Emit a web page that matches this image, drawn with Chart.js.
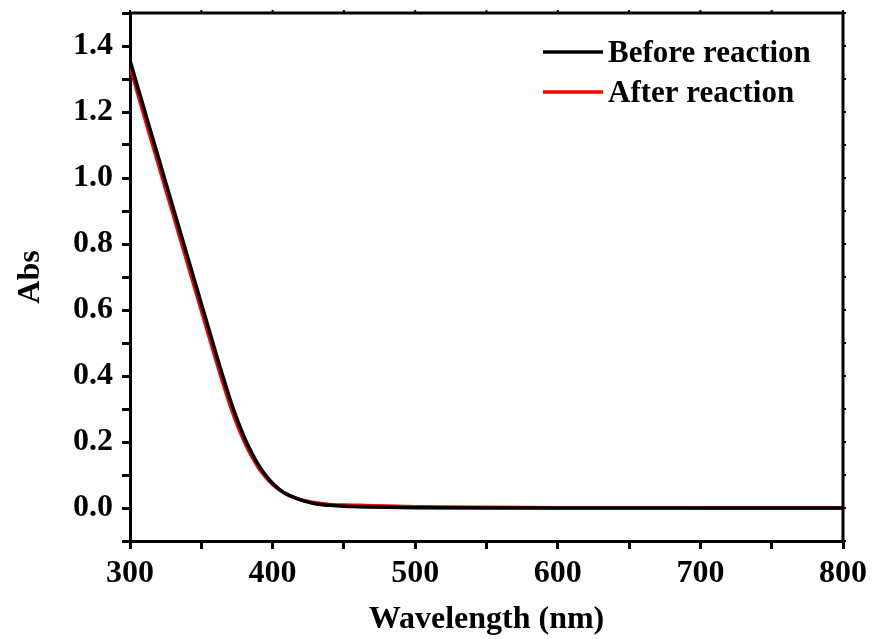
<!DOCTYPE html>
<html>
<head>
<meta charset="utf-8">
<script src="https://cdn.jsdelivr.net/npm/chart.js@4.4.0/dist/chart.umd.min.js"></script>
<style>
  html, body { margin: 0; padding: 0; background: #fff; }
  #wrap { width: 872px; height: 639px; }
</style>
</head>
<body>
<div id="wrap"><canvas id="c" width="872" height="639"></canvas></div>
<script>
const seriesNames = ['Before reaction', 'After reaction'];
const seriesColors = ['#000000', '#ff0000'];

const wavelengths = [300, 305, 310, 315, 320, 325, 330, 335, 340, 345, 350, 355, 360, 365, 370, 375, 380, 385, 390, 395, 400, 405, 410, 415, 420, 425, 430, 440, 450, 460, 480, 500, 550, 600, 650, 700, 750, 800];

const absBefore = [1.356, 1.282, 1.208, 1.134, 1.061, 0.987, 0.914, 0.840, 0.767, 0.693, 0.620, 0.546, 0.473, 0.401, 0.332, 0.270, 0.216, 0.170, 0.131, 0.100, 0.075, 0.056, 0.042, 0.032, 0.024, 0.018, 0.013, 0.008, 0.005, 0.004, 0.002, 0.001, 0.000, 0.000, 0.000, 0.000, 0.000, 0.000];

const absAfter = [1.338, 1.262, 1.187, 1.113, 1.040, 0.966, 0.893, 0.819, 0.746, 0.672, 0.599, 0.525, 0.452, 0.381, 0.314, 0.254, 0.203, 0.159, 0.123, 0.094, 0.071, 0.054, 0.041, 0.032, 0.025, 0.020, 0.016, 0.011, 0.009, 0.008, 0.006, 0.004, 0.002, 0.001, 0.001, 0.000, 0.000, 0.000];

const xTickValues = [300, 400, 500, 600, 700, 800];
const xTickLabels = ['300', '400', '500', '600', '700', '800'];
const yTickValues = [0.0, 0.2, 0.4, 0.6, 0.8, 1.0, 1.2, 1.4];
const yTickLabels = ['0.0', '0.2', '0.4', '0.6', '0.8', '1.0', '1.2', '1.4'];

const xTitle = 'Wavelength (nm)';
const yTitle = 'Abs';

const FONT = '"Liberation Serif", "Times New Roman", serif';

function pts(xs, ys) { return xs.map((x, i) => ({ x: x, y: ys[i] })); }

function labelFor(values, labels, v, eps) {
  for (let i = 0; i < values.length; i++) {
    if (Math.abs(values[i] - v) < eps) return labels[i];
  }
  return '';
}

const frameAndLegend = {
  id: 'frameAndLegend',
  afterDatasetsDraw(chart) {
    const { ctx, chartArea: a } = chart;
    ctx.save();
    ctx.strokeStyle = '#000';
    ctx.lineWidth = 3;
    ctx.beginPath();
    ctx.moveTo(a.left, a.top);
    ctx.lineTo(a.right, a.top);
    ctx.lineTo(a.right, a.bottom);
    ctx.stroke();
    // small ticks on top and right axes
    ctx.lineWidth = 2;
    const xs = chart.scales.x, ys = chart.scales.y;
    for (let v = 300; v <= 800; v += 50) {
      const px = xs.getPixelForValue(v);
      ctx.beginPath(); ctx.moveTo(px, a.top); ctx.lineTo(px, a.top - 3); ctx.stroke();
    }
    for (let k = -1; k <= 15; k++) {
      const py = ys.getPixelForValue(k / 10);
      ctx.beginPath(); ctx.moveTo(a.right, py); ctx.lineTo(a.right + 3, py); ctx.stroke();
    }
    // legend
    const ds = chart.data.datasets;
    const lx0 = a.right - 300, lx1 = a.right - 240;
    ds.forEach((d, i) => {
      const y = a.top + 39 + i * 40;
      ctx.strokeStyle = d.borderColor;
      ctx.lineWidth = 3.5;
      ctx.beginPath(); ctx.moveTo(lx0, y); ctx.lineTo(lx1, y); ctx.stroke();
      ctx.fillStyle = '#000';
      ctx.font = 'bold 31px ' + FONT;
      ctx.textBaseline = 'alphabetic';
      ctx.textAlign = 'left';
      ctx.fillText(d.label, lx1 + 5, y + 10);
    });
    ctx.restore();
  }
};

new Chart(document.getElementById('c'), {
  type: 'line',
  data: {
    datasets: [
      { label: seriesNames[0], data: pts(wavelengths, absBefore), borderColor: seriesColors[0], backgroundColor: seriesColors[0], borderWidth: 3.5, pointRadius: 0, cubicInterpolationMode: 'monotone' },
      { label: seriesNames[1], data: pts(wavelengths, absAfter), borderColor: seriesColors[1], backgroundColor: seriesColors[1], borderWidth: 3.5, pointRadius: 0, cubicInterpolationMode: 'monotone' }
    ]
  },
  options: {
    responsive: false,
    animation: false,
    events: [],
    layout: { padding: { top: 13, right: 29, left: 0, bottom: 0 } },
    plugins: { legend: { display: false }, tooltip: { enabled: false }, title: { display: false } },
    scales: {
      x: {
        type: 'linear',
        min: 300, max: 800,
        afterFit(s) { s.height = 98; s.paddingLeft = 0; s.paddingRight = 0; },
        border: { color: '#000', width: 3 },
        grid: { drawOnChartArea: false, color: '#000', lineWidth: 3, tickLength: 8, tickColor: '#000' },
        ticks: {
          stepSize: 50, autoSkip: false, maxRotation: 0, color: '#000', padding: 6,
          font: { family: FONT, size: 32, weight: 'bold' },
          callback: (v) => labelFor(xTickValues, xTickLabels, v, 0.5)
        },
        title: { display: true, text: xTitle, color: '#000', font: { family: FONT, size: 32, weight: 'bold' }, padding: { top: 0, bottom: 0 } }
      },
      y: {
        type: 'linear',
        min: -0.1, max: 1.5,
        afterFit(s) { s.width = 130; s.paddingTop = 0; s.paddingBottom = 0; },
        border: { color: '#000', width: 3 },
        grid: { drawOnChartArea: false, color: '#000', lineWidth: 3, tickLength: 8, tickColor: '#000' },
        ticks: {
          stepSize: 0.1, autoSkip: false, color: '#000', padding: 9,
          font: { family: FONT, size: 32, weight: 'bold' },
          callback: (v) => labelFor(yTickValues, yTickLabels, v, 0.01)
        },
        title: { display: true, text: yTitle, color: '#000', font: { family: FONT, size: 32, weight: 'bold' }, padding: { top: 12, bottom: 0 } }
      }
    }
  },
  plugins: [frameAndLegend]
});
</script>
</body>
</html>
